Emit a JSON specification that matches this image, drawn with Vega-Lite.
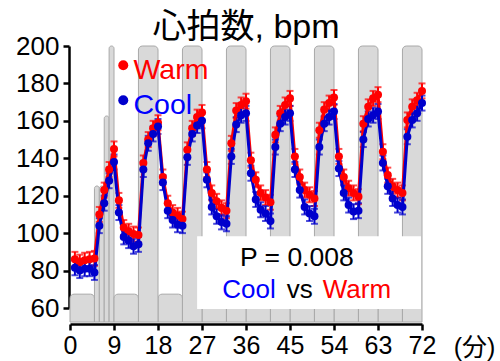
{
"$schema": "https://vega.github.io/schema/vega-lite/v6.json",
"width": 352, "height": 262,
"autosize": {"type": "none"},
"padding": {"left": 70, "top": 46, "right": 78, "bottom": 53},
"background": "white",
"config": {
"font": "Liberation Sans, Noto Sans CJK JP",
"view": {"stroke": null},
"axis": {"grid": false, "domainColor": "black", "domainWidth": 2.5, "tickColor": "black", "tickWidth": 2.5, "tickSize": 6, "labelColor": "black", "labelFlush": false, "labelOverlap": false, "titleFontWeight": "normal", "titleColor": "black"},
"axisQuantitative": {"labelOverlap": false},
"axisLeft": {"labelOverlap": false},
"axisX": {"labelFontSize": 25, "labelPadding": 3, "titleFontSize": 25},
"axisY": {"labelFontSize": 26, "labelPadding": 4, "labelOverlap": false}
},
"title": {"text": "心拍数, bpm", "fontSize": 34, "fontWeight": "normal", "font": "Liberation Sans, Noto Sans CJK JP", "frame": "group", "anchor": "middle", "baseline": "alphabetic", "offset": 6, "dy": 45, "color": "black"},
"datasets": {
"bars": [
{"start":0,"end":5,"top":67.4},{"start":5,"end":6,"top":125.2},{"start":6,"end":7,"top":125.2},{"start":7,"end":8,"top":162.6},{"start":8,"end":9,"top":200},
{"start":9,"end":14,"top":67.4},{"start":18,"end":23,"top":67.4},{"start":27,"end":32,"top":67.4},{"start":36,"end":41,"top":67.4},{"start":45,"end":50,"top":67.4},{"start":54,"end":59,"top":67.4},{"start":63,"end":68,"top":67.4},
{"start":14,"end":18,"top":200},{"start":23,"end":27,"top":200},{"start":32,"end":36,"top":200},{"start":41,"end":45,"top":200},{"start":50,"end":54,"top":200},{"start":59,"end":63,"top":200},{"start":68,"end":72,"top":200}
],
"hr": [
{"t":1,"g":"Warm","hr":86,"se":4},{"t":2,"g":"Warm","hr":84.5,"se":4},{"t":3,"g":"Warm","hr":85.5,"se":4},{"t":4,"g":"Warm","hr":86,"se":4},{"t":5,"g":"Warm","hr":86.5,"se":4},{"t":6,"g":"Warm","hr":110,"se":4},{"t":7,"g":"Warm","hr":123,"se":4},{"t":8,"g":"Warm","hr":134,"se":4},{"t":9,"g":"Warm","hr":145,"se":4},{"t":10,"g":"Warm","hr":117.5,"se":4},{"t":11,"g":"Warm","hr":103,"se":4},{"t":12,"g":"Warm","hr":101,"se":4},{"t":13,"g":"Warm","hr":99.5,"se":4},{"t":14,"g":"Warm","hr":99,"se":4},{"t":15,"g":"Warm","hr":137.5,"se":4},{"t":16,"g":"Warm","hr":150,"se":4},{"t":17,"g":"Warm","hr":156,"se":4},{"t":18,"g":"Warm","hr":159,"se":4},{"t":19,"g":"Warm","hr":130,"se":4},{"t":20,"g":"Warm","hr":116,"se":4},{"t":21,"g":"Warm","hr":111,"se":4},{"t":22,"g":"Warm","hr":109.5,"se":4},{"t":23,"g":"Warm","hr":107.5,"se":4},{"t":24,"g":"Warm","hr":144.5,"se":4},{"t":25,"g":"Warm","hr":156,"se":4},{"t":26,"g":"Warm","hr":162,"se":4},{"t":27,"g":"Warm","hr":164.5,"se":4},{"t":28,"g":"Warm","hr":134,"se":4},{"t":29,"g":"Warm","hr":121.5,"se":4},{"t":30,"g":"Warm","hr":117,"se":4},{"t":31,"g":"Warm","hr":113.5,"se":4},{"t":32,"g":"Warm","hr":112,"se":4},{"t":33,"g":"Warm","hr":148,"se":4},{"t":34,"g":"Warm","hr":165.5,"se":4},{"t":35,"g":"Warm","hr":168.5,"se":4},{"t":36,"g":"Warm","hr":170.5,"se":4},{"t":37,"g":"Warm","hr":139,"se":4},{"t":38,"g":"Warm","hr":128.5,"se":4},{"t":39,"g":"Warm","hr":121.5,"se":4},{"t":40,"g":"Warm","hr":119,"se":4},{"t":41,"g":"Warm","hr":116.5,"se":4},{"t":42,"g":"Warm","hr":152.5,"se":4},{"t":43,"g":"Warm","hr":164,"se":4},{"t":44,"g":"Warm","hr":168.5,"se":4},{"t":45,"g":"Warm","hr":172,"se":4},{"t":46,"g":"Warm","hr":141,"se":4},{"t":47,"g":"Warm","hr":130,"se":4},{"t":48,"g":"Warm","hr":123,"se":4},{"t":49,"g":"Warm","hr":120.5,"se":4},{"t":50,"g":"Warm","hr":118.5,"se":4},{"t":51,"g":"Warm","hr":155,"se":4},{"t":52,"g":"Warm","hr":166,"se":4},{"t":53,"g":"Warm","hr":169.5,"se":4},{"t":54,"g":"Warm","hr":172.5,"se":4},{"t":55,"g":"Warm","hr":141,"se":4},{"t":56,"g":"Warm","hr":130,"se":4},{"t":57,"g":"Warm","hr":124,"se":4},{"t":58,"g":"Warm","hr":121.5,"se":4},{"t":59,"g":"Warm","hr":119.5,"se":4},{"t":60,"g":"Warm","hr":158.5,"se":4},{"t":61,"g":"Warm","hr":167.5,"se":4},{"t":62,"g":"Warm","hr":172,"se":4},{"t":63,"g":"Warm","hr":174,"se":4},{"t":64,"g":"Warm","hr":143.5,"se":4},{"t":65,"g":"Warm","hr":131,"se":4},{"t":66,"g":"Warm","hr":125,"se":4},{"t":67,"g":"Warm","hr":123,"se":4},{"t":68,"g":"Warm","hr":121.5,"se":4},{"t":69,"g":"Warm","hr":160.5,"se":4},{"t":70,"g":"Warm","hr":167.5,"se":4},{"t":71,"g":"Warm","hr":171,"se":4},{"t":72,"g":"Warm","hr":176,"se":4},
{"t":1,"g":"Cool","hr":81.5,"se":4},{"t":2,"g":"Cool","hr":80,"se":4},{"t":3,"g":"Cool","hr":81,"se":4},{"t":4,"g":"Cool","hr":81,"se":4},{"t":5,"g":"Cool","hr":79,"se":4},{"t":6,"g":"Cool","hr":104,"se":4},{"t":7,"g":"Cool","hr":116,"se":4},{"t":8,"g":"Cool","hr":128,"se":4},{"t":9,"g":"Cool","hr":138,"se":4},{"t":10,"g":"Cool","hr":111,"se":4},{"t":11,"g":"Cool","hr":98,"se":4},{"t":12,"g":"Cool","hr":96,"se":4},{"t":13,"g":"Cool","hr":93,"se":4},{"t":14,"g":"Cool","hr":94,"se":4},{"t":15,"g":"Cool","hr":134,"se":4},{"t":16,"g":"Cool","hr":148,"se":4},{"t":17,"g":"Cool","hr":153,"se":4},{"t":18,"g":"Cool","hr":157,"se":4},{"t":19,"g":"Cool","hr":127,"se":4},{"t":20,"g":"Cool","hr":112,"se":4},{"t":21,"g":"Cool","hr":107,"se":4},{"t":22,"g":"Cool","hr":104.5,"se":4},{"t":23,"g":"Cool","hr":104,"se":4},{"t":24,"g":"Cool","hr":140.5,"se":4},{"t":25,"g":"Cool","hr":153,"se":4},{"t":26,"g":"Cool","hr":157.5,"se":4},{"t":27,"g":"Cool","hr":160,"se":4},{"t":28,"g":"Cool","hr":128.5,"se":4},{"t":29,"g":"Cool","hr":114,"se":4},{"t":30,"g":"Cool","hr":109,"se":4},{"t":31,"g":"Cool","hr":106,"se":4},{"t":32,"g":"Cool","hr":105,"se":4},{"t":33,"g":"Cool","hr":141,"se":4},{"t":34,"g":"Cool","hr":158,"se":4},{"t":35,"g":"Cool","hr":163,"se":4},{"t":36,"g":"Cool","hr":164,"se":4},{"t":37,"g":"Cool","hr":132,"se":4},{"t":38,"g":"Cool","hr":118,"se":4},{"t":39,"g":"Cool","hr":112.5,"se":4},{"t":40,"g":"Cool","hr":110.5,"se":4},{"t":41,"g":"Cool","hr":106.5,"se":4},{"t":42,"g":"Cool","hr":146,"se":4},{"t":43,"g":"Cool","hr":158.5,"se":4},{"t":44,"g":"Cool","hr":162,"se":4},{"t":45,"g":"Cool","hr":164,"se":4},{"t":46,"g":"Cool","hr":134,"se":4},{"t":47,"g":"Cool","hr":123,"se":4},{"t":48,"g":"Cool","hr":114,"se":4},{"t":49,"g":"Cool","hr":110.5,"se":4},{"t":50,"g":"Cool","hr":109,"se":4},{"t":51,"g":"Cool","hr":146,"se":4},{"t":52,"g":"Cool","hr":158.5,"se":4},{"t":53,"g":"Cool","hr":162,"se":4},{"t":54,"g":"Cool","hr":165,"se":4},{"t":55,"g":"Cool","hr":134.5,"se":4},{"t":56,"g":"Cool","hr":121.5,"se":4},{"t":57,"g":"Cool","hr":115,"se":4},{"t":58,"g":"Cool","hr":111.5,"se":4},{"t":59,"g":"Cool","hr":112,"se":4},{"t":60,"g":"Cool","hr":150,"se":4},{"t":61,"g":"Cool","hr":161,"se":4},{"t":62,"g":"Cool","hr":163,"se":4},{"t":63,"g":"Cool","hr":165,"se":4},{"t":64,"g":"Cool","hr":137.5,"se":4},{"t":65,"g":"Cool","hr":125,"se":4},{"t":66,"g":"Cool","hr":118.5,"se":4},{"t":67,"g":"Cool","hr":115,"se":4},{"t":68,"g":"Cool","hr":114,"se":4},{"t":69,"g":"Cool","hr":151.5,"se":4},{"t":70,"g":"Cool","hr":160.5,"se":4},{"t":71,"g":"Cool","hr":164,"se":4},{"t":72,"g":"Cool","hr":169.5,"se":4}
],
"one": [{}]
},
"layer": [
{
"data": {"name": "bars"},
"mark": {"type": "rect", "fill": "#d9d9d9", "stroke": "#a8a8a8", "strokeWidth": 1, "cornerRadiusTopLeft": 4, "cornerRadiusTopRight": 4},
"encoding": {
"x": {"field": "start", "type": "quantitative", "scale": {"domain": [0, 72], "nice": false, "zero": false},
"axis": {"values": [0,9,18,27,36,45,54,63,72], "offset": 16, "labelOverlap": false, "title": "(分)", "titleX": 404, "titleY": 23, "titleAlign": "center", "titleBaseline": "middle"}},
"x2": {"field": "end"},
"y": {"field": "top", "type": "quantitative", "scale": {"domain": [60, 200], "nice": false, "zero": false},
"axis": {"values": [60,80,100,120,140,160,180,200], "offset": 1, "labelOverlap": false, "labelFontSize": 26, "title": null}},
"y2": {"datum": 52.5}
}
},
{
"data": {"name": "one"},
"mark": {"type": "rect", "fill": "white"},
"encoding": {
"x": {"datum": 26.0, "type": "quantitative"},
"x2": {"datum": 71.8},
"y": {"datum": 98.4, "type": "quantitative", "axis": {"values": [60,80,100,120,140,160,180,200], "offset": 1, "labelOverlap": false, "labelFontSize": 26, "title": null}},
"y2": {"datum": 59.4}
}
},
{
"data": {"name": "one"},
"mark": {"type": "text", "text": "P = 0.008", "fontSize": 26.5, "color": "black", "align": "center", "baseline": "middle"},
"encoding": {"x": {"datum": 46.4, "type": "quantitative"}, "y": {"datum": 86.8, "type": "quantitative", "axis": {"values": [60,80,100,120,140,160,180,200], "offset": 1, "labelOverlap": false, "labelFontSize": 26, "title": null}}}
},
{
"data": {"name": "one"},
"mark": {"type": "text", "text": "Cool", "fontSize": 26, "color": "#0000ff", "align": "right", "baseline": "middle"},
"encoding": {"x": {"datum": 42.1, "type": "quantitative"}, "y": {"datum": 69.6, "type": "quantitative", "axis": {"values": [60,80,100,120,140,160,180,200], "offset": 1, "labelOverlap": false, "labelFontSize": 26, "title": null}}}
},
{
"data": {"name": "one"},
"mark": {"type": "text", "text": "vs", "fontSize": 26, "color": "black", "align": "center", "baseline": "middle"},
"encoding": {"x": {"datum": 47.0, "type": "quantitative"}, "y": {"datum": 69.6, "type": "quantitative", "axis": {"values": [60,80,100,120,140,160,180,200], "offset": 1, "labelOverlap": false, "labelFontSize": 26, "title": null}}}
},
{
"data": {"name": "one"},
"mark": {"type": "text", "text": "Warm", "fontSize": 26, "color": "#ff0000", "align": "left", "baseline": "middle"},
"encoding": {"x": {"datum": 51.7, "type": "quantitative"}, "y": {"datum": 69.6, "type": "quantitative", "axis": {"values": [60,80,100,120,140,160,180,200], "offset": 1, "labelOverlap": false, "labelFontSize": 26, "title": null}}}
},
{
"data": {"name": "hr"},
"mark": {"type": "errorbar", "ticks": {"size": 7}, "thickness": 2},
"encoding": {
"x": {"field": "t", "type": "quantitative"},
"y": {"field": "hr", "type": "quantitative", "axis": {"values": [60,80,100,120,140,160,180,200], "offset": 1, "labelOverlap": false, "labelFontSize": 26, "title": null}},
"yError": {"field": "se"},
"color": {"field": "g", "type": "nominal", "scale": {"domain": ["Warm", "Cool"], "range": ["#ff0000", "#0000cc"]}}
}
},
{
"data": {"name": "hr"},
"mark": {"type": "line", "strokeWidth": 3},
"encoding": {
"x": {"field": "t", "type": "quantitative"},
"y": {"field": "hr", "type": "quantitative", "axis": {"values": [60,80,100,120,140,160,180,200], "offset": 1, "labelOverlap": false, "labelFontSize": 26, "title": null}},
"color": {"field": "g", "type": "nominal"}
}
},
{
"data": {"name": "hr"},
"mark": {"type": "point", "filled": true, "size": 65, "opacity": 1, "shape": "circle"},
"encoding": {
"x": {"field": "t", "type": "quantitative"},
"y": {"field": "hr", "type": "quantitative", "axis": {"values": [60,80,100,120,140,160,180,200], "offset": 1, "labelOverlap": false, "labelFontSize": 26, "title": null}},
"color": {"field": "g", "type": "nominal",
"legend": {"orient": "none", "legendX": 39, "legendY": 5, "title": null, "labelFontSize": 28.5, "symbolSize": 100, "symbolType": "circle", "symbolStrokeWidth": 0, "symbolOpacity": 1, "labelOffset": -4, "rowPadding": 1, "padding": 0,
"encode": {"labels": {"update": {"fill": {"signal": "datum.value === 'Warm' ? '#ff0000' : '#0000ff'"}, "dy": {"value": 5}}}}}}
}
}
]
}
